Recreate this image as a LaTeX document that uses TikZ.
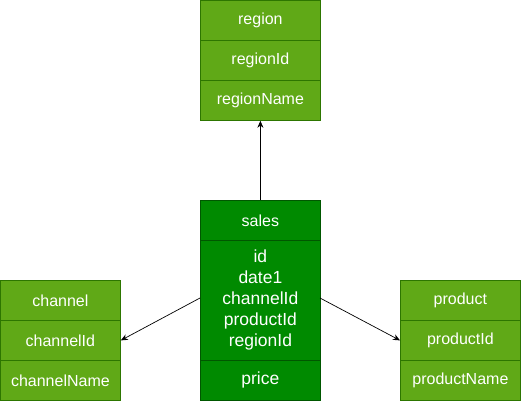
\documentclass[tikz,border=0pt]{standalone}
\usepackage{fontspec}
\setmainfont{Liberation Sans}
\usetikzlibrary{arrows.meta}
\definecolor{lg}{HTML}{60A917}
\definecolor{lgb}{HTML}{2D7600}
\definecolor{dg}{HTML}{008A00}
\definecolor{dgb}{HTML}{005700}
\tikzset{
  cell/.style={draw=lgb, fill=lg, text=white, minimum width=120pt, minimum height=40pt, inner sep=0pt, font=\fontsize{16}{19}\selectfont, anchor=north west, line width=0.8pt},
  dcell/.style={cell, draw=dgb, fill=dg},
  conn/.style={-{Stealth[length=7pt,width=6pt]}, line width=0.7pt, black},
}
\begin{document}
\begin{tikzpicture}[x=1pt,y=-1pt]
\useasboundingbox (0,0) rectangle (521,411);
% region
\node[cell] (r1) at (200,0) {region};
\node[cell] (r2) at (200,40) {regionId};
\node[cell] (r3) at (200,80) {regionName};
% sales
\node[dcell] (s1) at (200,200) {sales};
\node[dcell, minimum height=120pt, align=center, font=\fontsize{17.5}{21}\selectfont] (s2) at (200,240) {id\\date1\\channelId\\productId\\regionId};
\node[dcell, font=\fontsize{17.5}{21}\selectfont] (s3) at (200,360) {price};
% channel
\node[cell] (c1) at (0,280) {channel};
\node[cell] (c2) at (0,320) {channelId};
\node[cell] (c3) at (0,360) {channelName};
% product
\node[cell] (p1) at (400,280) {product};
\node[cell] (p2) at (400,320) {productId};
\node[cell] (p3) at (400,360) {productName};
% connectors
\coordinate (sl) at (200,298);
\coordinate (sr) at (320,298);
\draw[conn] (s1.north) -- (r3.south);
\draw[conn] (sl) -- (c2.east);
\draw[conn] (sr) -- (p2.west);
\end{tikzpicture}
\end{document}
